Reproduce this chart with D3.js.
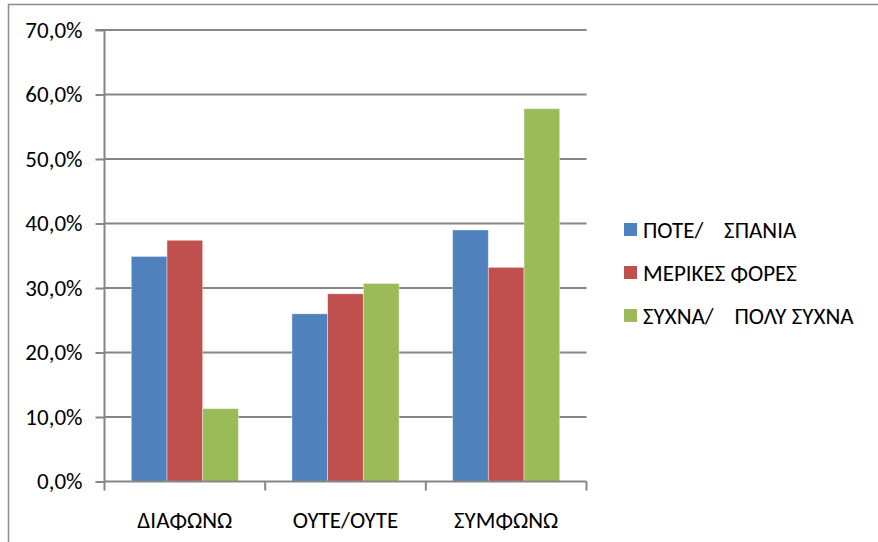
<!DOCTYPE html>
<html><head><meta charset="utf-8">
<script src="https://cdn.jsdelivr.net/npm/d3@7"></script>
<style>body{margin:0;background:#fff}svg text{font-family:Carlito,"Liberation Sans",Arial,sans-serif;fill:#000}</style>
</head><body>
<script>
const categories = ["ΔΙΑΦΩΝΩ", "ΟΥΤΕ/ΟΥΤΕ", "ΣΥΜΦΩΝΩ"];
const seriesNames = ["ΠΟΤΕ/    ΣΠΑΝΙΑ", "ΜΕΡΙΚΕΣ ΦΟΡΕΣ", "ΣΥΧΝΑ/    ΠΟΛΥ ΣΥΧΝΑ"];
const seriesColors = ["#4F81BD", "#C0504D", "#9BBB59"];
const poteSpania = [0.349, 0.260, 0.390];
const merikesFores = [0.374, 0.291, 0.332];
const sychnaPolySychna = [0.113, 0.307, 0.578];
const yTicks = [0, 0.1, 0.2, 0.3, 0.4, 0.5, 0.6, 0.7];

const series = [poteSpania, merikesFores, sychnaPolySychna];

const W = 878, H = 542;
const FONT = 'Carlito, "Liberation Sans", Arial, sans-serif';
const FS = 23;
const svg = d3.select("body").append("svg").attr("width", W).attr("height", H);

// chart border (clipped by the window on right and bottom)
svg.append("rect").attr("x", 8.5).attr("y", 4.5).attr("width", 900).attr("height", 600)
  .attr("fill", "none").attr("stroke", "#8c8c8c").attr("stroke-width", 1.5);

const plot = {left: 104.5, right: 586.5, top: 30, bottom: 481.5};
const y = d3.scaleLinear().domain([0, 0.7]).range([plot.bottom, plot.top]);
const x0 = d3.scaleBand().domain(categories).range([plot.left, plot.right]).paddingInner(0).paddingOuter(0);
const barW = x0.bandwidth() / 4.5;
const gap = (x0.bandwidth() - 3 * barW) / 2;

const fmt = v => d3.format(".1f")(v * 100).replace(".", ",") + "%";

// gridlines
svg.append("g").selectAll("line").data(yTicks.filter(t => t > 0)).join("line")
  .attr("x1", plot.left).attr("x2", plot.right)
  .attr("y1", d => y(d)).attr("y2", d => y(d))
  .attr("stroke", "#868686").attr("stroke-width", 2);

// y axis
const yAxis = d3.axisLeft(y).tickValues(yTicks).tickFormat(fmt).tickSize(9).tickPadding(13);
const gy = svg.append("g").attr("transform", `translate(${plot.left},0)`).call(yAxis);
gy.select(".domain").attr("stroke", "#868686").attr("stroke-width", 2).attr("d", `M-9,${plot.top}H0V${plot.bottom}`);
gy.selectAll(".tick line").attr("stroke", "#868686").attr("stroke-width", 2);
gy.selectAll(".tick text").attr("font-size", FS).attr("font-family", FONT).attr("fill", "#000");

// bars
const groups = svg.append("g").selectAll("g").data(series).join("g")
  .attr("fill", (d, i) => seriesColors[i]);
groups.each(function(vals, si) {
  d3.select(this).selectAll("rect").data(vals).join("rect")
    .attr("x", (v, ci) => x0(categories[ci]) + gap + si * barW)
    .attr("width", barW)
    .attr("y", v => y(v))
    .attr("height", v => plot.bottom - y(v))
    .attr("stroke", "rgba(255,255,255,0.5)").attr("stroke-width", 0.8);
});

// x axis
const xAxis = d3.axisBottom(x0).tickSize(0).tickPadding(30);
const gx = svg.append("g").attr("transform", `translate(0,${plot.bottom})`).call(xAxis);
gx.select(".domain").attr("stroke", "#868686").attr("stroke-width", 2).attr("d", `M${plot.left},0H${plot.right}`);
gx.selectAll(".tick text").attr("font-size", FS).attr("font-family", FONT).attr("fill", "#000");
// category boundary ticks
const bounds = categories.map(c => x0(c)).concat([plot.right]);
gx.append("g").selectAll("line").data(bounds).join("line")
  .attr("x1", d => d).attr("x2", d => d).attr("y1", 0).attr("y2", 9)
  .attr("stroke", "#868686").attr("stroke-width", 2);

// legend
const legend = svg.append("g").attr("transform", "translate(624,0)");
const legY = [230, 273, 316];
seriesNames.forEach((name, i) => {
  legend.append("rect").attr("x", 0).attr("y", legY[i] - 7).attr("width", 13).attr("height", 13).attr("fill", seriesColors[i]);
  legend.append("text").attr("x", 19).attr("y", legY[i]).attr("dy", "0.35em")
    .attr("font-size", FS).style("white-space", "pre").text(name);
});
</script>
</body></html>
